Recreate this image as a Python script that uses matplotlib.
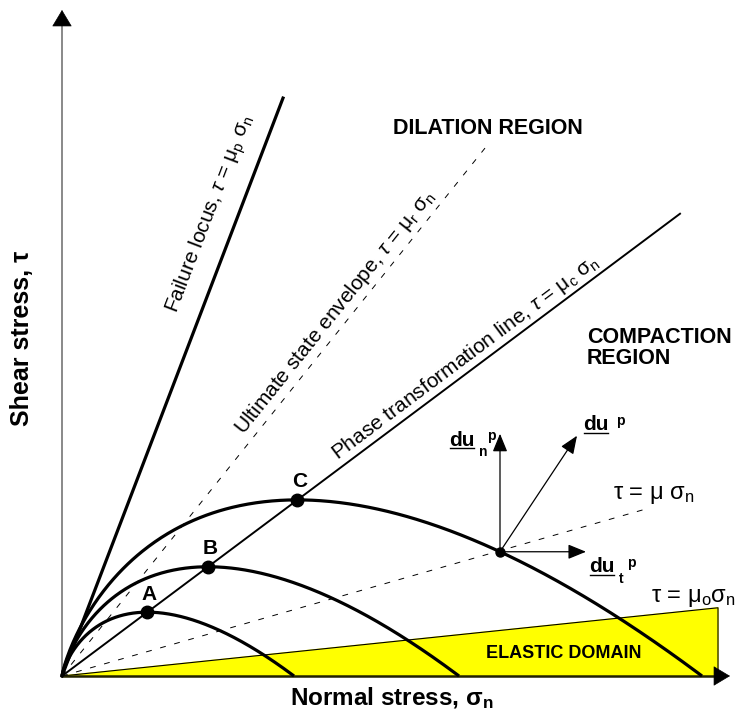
import numpy as np
import matplotlib.pyplot as plt

plt.rcParams['font.family'] = ['Liberation Sans', 'DejaVu Sans']
plt.rcParams['mathtext.fontset'] = 'custom'
plt.rcParams['mathtext.rm'] = 'Liberation Sans'
plt.rcParams['mathtext.it'] = 'Liberation Sans:italic'
plt.rcParams['mathtext.bf'] = 'Liberation Sans:bold'

# slopes of the straight lines (tau = mu * sigma_n)
mu_p = 2.615   # failure locus
mu_r = 1.248   # ultimate state envelope
mu_c = 0.748   # phase transformation line
mu_s = 0.286   # tau = mu sigma_n
mu_o = 0.104   # elastic domain

# sigma_n where each line stops
end_p, end_r, end_c, end_s, end_o = 221, 423, 618, 581, 656

# yield surfaces: sigma_n where they hit the axis
sigma0 = [232, 397, 640]
names = ['A', 'B', 'C']

# stress point on the biggest surface and its plastic increments
sig_pt = 438
du_n = (0, 118)
du_t = (86, 0)
du_v = (77, 116)

x_max, y_max = 668, 666

fig = plt.figure(figsize=(7.43, 7.19), dpi=100)
ax = fig.add_axes([0, 0, 1, 1])
ax.set_xlim(-62, 681)
ax.set_ylim(-43, 676)
ax.axis('off')

# elastic domain
xs = np.array([0, end_o, end_o])
ax.fill(xs, [0, mu_o * end_o, 0], color='#ffff00', zorder=1)
ax.plot([0, end_o, end_o], [0, mu_o * end_o, 0], color='black', lw=0.8, zorder=2)

# axes with arrows
ax.plot([0, 0], [0, y_max - 12], color='#808080', lw=1.3, zorder=2)
ax.plot([0, x_max - 12], [0, 0], color='#222200', lw=1.8, zorder=2)
head = dict(arrowstyle='-|>,head_length=1.0,head_width=0.6', color='black',
            mutation_scale=11, shrinkA=0, shrinkB=0, lw=0.5)
ax.annotate('', xy=(0, y_max), xytext=(0, y_max - 14), arrowprops=head)
ax.annotate('', xy=(x_max, 0), xytext=(x_max - 14, 0), arrowprops=head)

# straight lines
ax.plot([0, end_p], [0, mu_p * end_p], color='black', lw=2.3, zorder=3)
ax.plot([0, end_c], [0, mu_c * end_c], color='black', lw=1.4, zorder=3)
dash = dict(color='black', lw=0.7, dashes=(6, 9), zorder=3)
ax.plot([0, end_r], [0, mu_r * end_r], **dash)
ax.plot([0, end_s], [0, mu_s * end_s], **dash)

# yield surfaces (Cam-clay shape), peak sits on the phase transformation line
for s0, nm in zip(sigma0, names):
    s = np.linspace(1e-6, s0, 400)
    ax.plot(s, mu_c * s * np.log(s0 / s), color='black', lw=2.3, zorder=4,
            solid_capstyle='butt')
    px = s0 / np.e
    py = mu_c * px
    ax.plot(px, py, 'o', color='black', ms=9, zorder=5)
    ax.text(px + 2, py + 18, nm, fontsize=15, fontweight='bold',
            ha='center', va='center')

# stress point and plastic displacement increments
s0 = sigma0[-1]
pt = (sig_pt, mu_c * sig_pt * np.log(s0 / sig_pt))
ax.plot(*pt, 'o', color='black', ms=6.5, zorder=5)
small = dict(arrowstyle='-|>,head_length=1.1,head_width=0.45', color='black',
             mutation_scale=10, shrinkA=0, shrinkB=0, lw=0.9)
for v in (du_n, du_t, du_v):
    ax.annotate('', xy=(pt[0] + v[0], pt[1] + v[1]), xytext=pt,
                arrowprops=small, zorder=6)

# labels along the lines
rot = lambda m: np.degrees(np.arctan(m))
along = dict(fontsize=15, ha='center', va='center', rotation_mode='anchor')
ax.text(149, 462, r'Failure locus, $\tau$ = μ$_\mathregular{p}$ σ$_\mathregular{n}$',
        rotation=rot(mu_p), **along)
ax.text(273, 364, r'Ultimate state envelope, $\tau$ = μ$_\mathregular{r}$ σ$_\mathregular{n}$',
        rotation=rot(mu_r), **along)
ax.text(403, 318, r'Phase transformation line, $\tau$ = μ$_\mathregular{c}$ σ$_\mathregular{n}$',
        rotation=rot(mu_c), **along)

ax.text(426, 547, 'DILATION REGION', fontsize=15.5, fontweight='bold',
        ha='center', va='center')
ax.text(525, 328, 'COMPACTION\nREGION', fontsize=15.5, fontweight='bold',
        ha='left', va='center', linespacing=1.05)
ax.text(502, 22, 'ELASTIC DOMAIN', fontsize=13, fontweight='bold',
        ha='center', va='center')
ax.text(592, 181, r'τ = μ σ$_\mathregular{n}$', fontsize=17, ha='center', va='center')
ax.text(631, 78, r'τ = μ$_\mathregular{o}$σ$_\mathregular{n}$', fontsize=17,
        ha='center', va='center')

ax.text(-40, 338, 'Shear stress, τ', fontsize=18, fontweight='bold',
        rotation=90, ha='center', va='center')
ax.text(330, -22, r'Normal stress, σ$_\mathbf{n}$', fontsize=17.5,
        fontweight='bold', ha='center', va='center')

# du labels, "du" underlined
du_texts = []
for (x, y, sub, sup) in [(521, 251, '', 'p'), (387, 236, 'n', 'p'),
                         (527, 109, 't', 'p')]:
    t = ax.text(x, y, 'du', fontsize=15, fontweight='bold', ha='left',
                va='center')
    du_texts.append(t)
    ax.text(x + 30, y - 12, sub, fontsize=10, fontweight='bold', ha='left',
            va='center')
    ax.text(x + (38 if sub else 33), y + 4, sup, fontsize=10,
            fontweight='bold', ha='left', va='center')

fig.canvas.draw()
r = fig.canvas.get_renderer()
inv = ax.transData.inverted()
for t in du_texts:
    bb = t.get_window_extent(r)
    (x0, y0), (x1, _) = inv.transform([(bb.x0, bb.y0), (bb.x1, bb.y0)])
    ax.plot([x0 + 1, x1 - 1], [y0 + 2, y0 + 2], color='black', lw=1.0)

fig.savefig('out.png', dpi=100)
